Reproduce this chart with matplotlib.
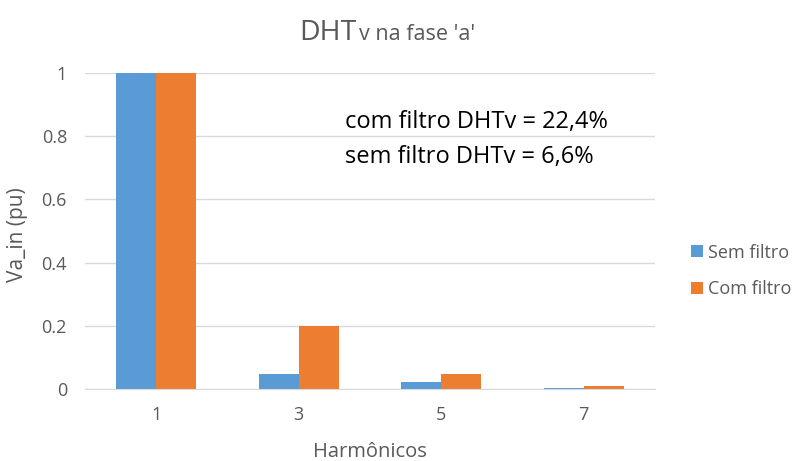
import matplotlib.pyplot as plt
import numpy as np

plt.rcParams['font.family'] = ['Open Sans', 'DejaVu Sans']

# harmonic orders and per-unit amplitudes
harmonicos = ["1", "3", "5", "7"]
sem_filtro = [1.0, 0.048, 0.021, 0.004]
com_filtro = [1.0, 0.2, 0.048, 0.009]
y_ticks = [0, 0.2, 0.4, 0.6, 0.8, 1]
y_tick_labels = ["0", "0.2", "0.4", "0.6", "0.8", "1"]

azul = '#5B9BD5'
laranja = '#ED7D31'
cinza = '#595959'

fig = plt.figure(figsize=(7.95, 4.61), dpi=100)
ax = fig.add_axes([85 / 795, 1 - 389 / 461, 570 / 795, 316 / 461])

x = np.arange(len(harmonicos))
w = 0.28
ax.bar(x - w / 2, sem_filtro, w, color=azul, label='Sem filtro', zorder=3)
ax.bar(x + w / 2, com_filtro, w, color=laranja, label='Com filtro', zorder=3)

ax.set_xlim(-0.5, len(harmonicos) - 0.5)
ax.set_ylim(0, 1)
ax.set_xticks(x)
ax.set_xticklabels(harmonicos)
ax.set_yticks(y_ticks)
ax.set_yticklabels(y_tick_labels)
ax.tick_params(length=0, labelsize=13, colors=cinza)
ax.tick_params(axis='x', pad=12)
ax.tick_params(axis='y', pad=13)
ax.grid(axis='y', color='#D9D9D9', linewidth=1, zorder=0)
for s in ['top', 'right', 'left']:
    ax.spines[s].set_visible(False)
ax.spines['bottom'].set_color('#D9D9D9')
ax.spines['bottom'].set_zorder(4)

fig.text(370 / 795, 1 - 452 / 461, "Harmônicos", fontsize=14.5, color=cinza,
         ha='center', va='center')
fig.text(18 / 795, 1 - 235 / 461, "Va_in (pu)", fontsize=15, color=cinza,
         ha='center', va='center', rotation=90)

# title with a smaller suffix after "DHT"
fig.text(357 / 795, 1 - 40 / 461, "DHT", fontsize=20.5, color=cinza,
         ha='right', va='baseline')
fig.text(359 / 795, 1 - 40 / 461, "v na fase 'a'", fontsize=15.5, color=cinza,
         ha='left', va='baseline')

fig.text(345 / 795, 1 - 122 / 461, "com filtro DHTv = 22,4%",
         fontsize=17, color='black', ha='left', va='center')
fig.text(345 / 795, 1 - 157 / 461, "sem filtro DHTv = 6,6%",
         fontsize=17, color='black', ha='left', va='center')

leg = fig.legend(loc='center left', bbox_to_anchor=(691 / 795, 1 - 271 / 461),
                 frameon=False, fontsize=13, labelspacing=1.05,
                 handlelength=0.65, handleheight=0.65, handletextpad=0.3,
                 borderaxespad=0, borderpad=0)
for t in leg.get_texts():
    t.set_color(cinza)

fig.savefig('out.png', dpi=100)
